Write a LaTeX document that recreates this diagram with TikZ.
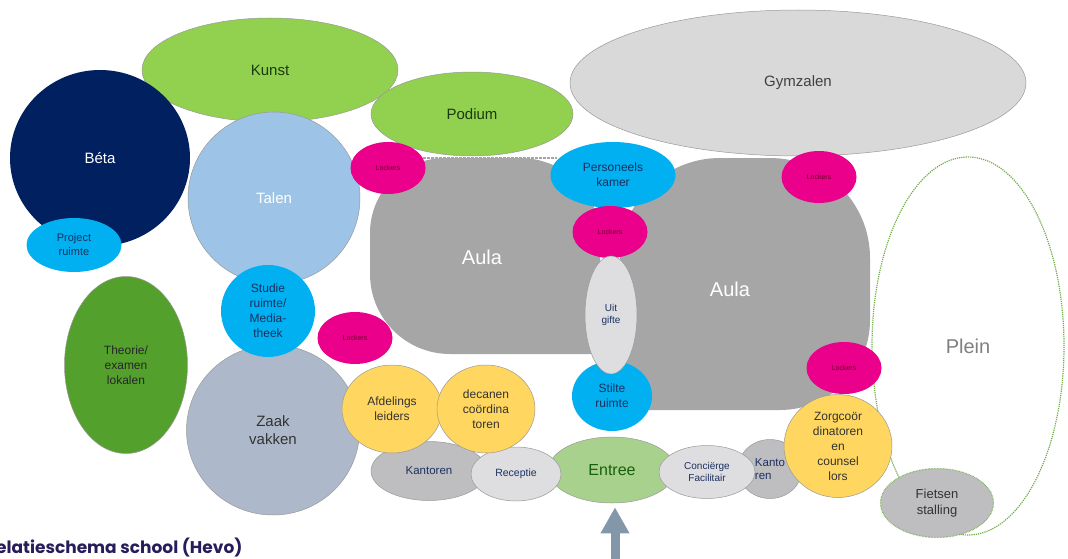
\documentclass[tikz,border=0pt]{standalone}
\usepackage{fontspec}
\setmainfont{Liberation Sans}
\newfontfamily\titlefont{Poppins}
\usetikzlibrary{shapes.geometric,arrows.meta}

\definecolor{kunstgreen}{RGB}{146,208,80}
\definecolor{betanavy}{RGB}{0,32,96}
\definecolor{cyanblue}{RGB}{0,176,240}
\definecolor{talenblue}{RGB}{157,195,230}
\definecolor{gymgray}{RGB}{217,217,217}
\definecolor{lockerpink}{RGB}{234,0,138}
\definecolor{lockertext}{RGB}{110,0,40}
\definecolor{palegray}{RGB}{222,222,225}
\definecolor{aulagray}{RGB}{166,166,166}
\definecolor{theoriegreen}{RGB}{84,160,44}
\definecolor{zaakblue}{RGB}{173,185,202}
\definecolor{staffyellow}{RGB}{255,214,95}
\definecolor{officegray}{RGB}{190,190,192}
\definecolor{entreegreen}{RGB}{169,209,142}
\definecolor{pleingreen}{RGB}{112,173,71}
\definecolor{arrowblue}{RGB}{132,151,170}
\definecolor{titlepurple}{RGB}{40,28,90}
\definecolor{navytext}{RGB}{28,48,96}
\definecolor{greentext}{RGB}{28,58,14}

\begin{document}
\begin{tikzpicture}[
    x=1pt, y=-1pt,
    wh/.style 2 args={minimum width=#1pt, minimum height=#2pt},
    room/.style={ellipse, inner sep=-4pt, align=center, draw=black!40, line width=0.5pt},
    bigfont/.style={font=\fontsize{15}{18}\selectfont},
    midfont/.style={font=\fontsize{12}{15}\selectfont},
    smallfont/.style={font=\fontsize{10.5}{13}\selectfont},
    lockers/.style={room, draw=none, fill=lockerpink, wh={75}{52}, text=lockertext, font=\fontsize{7}{8}\selectfont},
    blueroom/.style={room, draw=none, fill=cyanblue, text=navytext, midfont},
    yellowroom/.style={room, fill=staffyellow, text=black!80, midfont},
    desk/.style={room, fill=palegray, text=navytext, smallfont},
    office/.style={room, fill=officegray, text=navytext, font=\fontsize{11.5}{13}\selectfont},
    aula/.style={fill=aulagray},
    aulatext/.style={text=white, font=\fontsize{20}{24}\selectfont},
    entryarrow/.style={draw=arrowblue, line width=9pt, -{Triangle[width=27pt,length=26pt]}, shorten >=4pt}
]
    \useasboundingbox (0,0) rectangle (1068,559);

    % Top row
    \node[room, fill=gymgray, wh={456}{146}, bigfont, text=black!75] (gym) at (798,83) {Gymzalen};
    \node[room, fill=kunstgreen, wh={256}{104}, bigfont, text=greentext] (kunst) at (270,70) {Kunst};
    \node[room, draw=none, fill=betanavy, wh={180}{176}, bigfont, text=white] (beta) at (100,158) {Béta};
    \node[blueroom, wh={95}{54}, font=\fontsize{11}{14}\selectfont] (project) at (74,245) {Project\\ruimte};
    \node[room, fill=kunstgreen, wh={202}{84}, bigfont, text=greentext] (podium) at (472,114) {Podium};
    \node[room, fill=talenblue, wh={172}{172}, bigfont, text=white] (talen) at (274,198) {Talen};

    % Aula (two halls)
    \fill[aula] (445,158) -- (520,158) arc[start angle=270, end angle=360, radius=80]
        -- (600,344) arc[start angle=0, end angle=90, radius=10]
        -- (450,354) arc[start angle=90, end angle=180, radius=80]
        -- (370,233) arc[start angle=180, end angle=270, radius=75] -- cycle;
    \fill[aula] (720,158) -- (770,158) arc[start angle=270, end angle=360, radius=100]
        -- (870,320) arc[start angle=0, end angle=90, radius=90]
        -- (635,410) arc[start angle=90, end angle=180, radius=15]
        -- (620,258) arc[start angle=180, end angle=270, radius=100] -- cycle;
    \draw[aulagray, line width=2.5pt, dash pattern=on 2.5pt off 1.5pt] (423,158) -- (557,158);
    \node[aulatext] (aulaL) at (482,257) {Aula};
    \node[aulatext] (aulaR) at (730,289) {Aula};

    % Plein (open air)
    \node[ellipse, draw=pleingreen, densely dotted, line width=1.2pt, wh={192}{378}, text=black!50,
          font=\fontsize{20}{24}\selectfont] (plein) at (968,346) {Plein};

    % Middle
    \node[blueroom, wh={125}{66}] (pers) at (613,175) {Personeels\\kamer};
    \node[lockers] (lockB) at (610,232) {Lockers};
    \node[blueroom, wh={80}{70}] (stilte) at (612,396) {Stilte\\ruimte};
    \node[desk, wh={52}{118}, font=\fontsize{10}{12}\selectfont] (uitgifte) at (611,315) {Uit\\gifte};

    \node[lockers] (lockA) at (388,168) {Lockers};
    \node[lockers] (lockC) at (819,177) {Lockers};
    \node[lockers] (lockD) at (355,338) {Lockers};
    \node[lockers] (lockE) at (844,368) {Lockers};

    % Left side
    \node[room, fill=theoriegreen, wh={123}{177}, midfont, text=black!85] (theorie) at (126,365) {Theorie/\\examen\\lokalen};
    \node[room, fill=zaakblue, wh={173}{170}, bigfont, text=black!80] (zaak) at (273,430) {Zaak\\vakken};
    \node[blueroom, wh={94}{92}] (studie) at (268,311) {Studie\\ruimte/\\Media-\\theek};

    % Bottom row
    \node[office, wh={116}{59}] (kantL) at (429,471) {Kantoren};
    \node[room, fill=entreegreen, wh={127}{66}, text=greentext!80!green, font=\fontsize{16}{19}\selectfont] (entree) at (612,470) {Entree};
    \node[desk, wh={90}{54}] (receptie) at (516,474) {Receptie};
    \node[yellowroom, wh={100}{88}] (afdeling) at (392,409) {Afdelings\\leiders};
    \node[yellowroom, wh={98}{88}] (decanen) at (486,409) {decanen\\coördina\\toren};
    \node[office, wh={64}{59}, align=left] (kantR) at (770,469) {Kanto\\ren};
    \node[desk, wh={96}{53}, font=\fontsize{10}{12}\selectfont] (concierge) at (707,472) {Conciërge\\Facilitair};
    \node[yellowroom, wh={108}{103}] (zorg) at (838,446) {Zorgcoör\\dinatoren\\en\\counsel\\lors};
    \node[room, fill=officegray, draw=pleingreen, densely dotted, line width=1.2pt, wh={113}{69},
          text=black!80, font=\fontsize{13}{16}\selectfont] (fiets) at (937,503) {Fietsen\\stalling};

    % Entrance arrow
    \coordinate (door) at (615,575);
    \draw[entryarrow] (door) -- (door |- entree.south);

    % Title
    \node[anchor=base east, text=titlepurple, font=\titlefont\bfseries\fontsize{17}{20}\selectfont] (title)
        at (246,553) {Relatieschema school (Hevo)};

\end{tikzpicture}
\end{document}
